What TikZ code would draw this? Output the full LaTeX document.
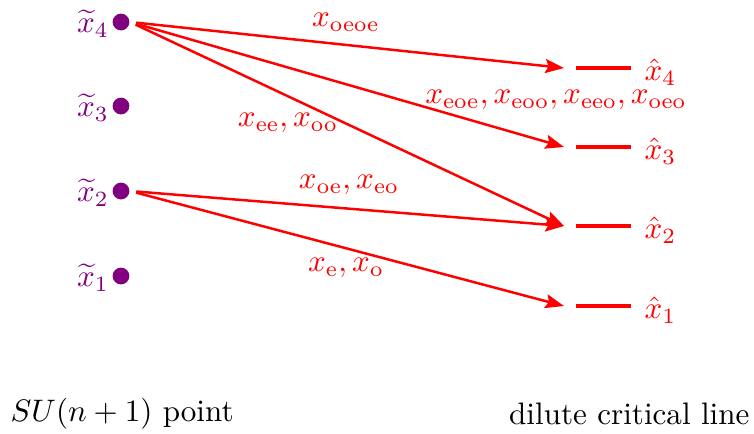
\documentclass[tikz,border=0pt]{standalone}
\usetikzlibrary{arrows.meta}
\definecolor{pur}{RGB}{128,0,128}
\tikzset{
  dot/.style={circle,fill=pur,inner sep=0pt,minimum size=5.4pt},
  ltxt/.style={text=pur,anchor=east,inner sep=0.5pt},
  bar/.style={red,line width=1.5pt},
  rtxt/.style={text=red,anchor=west,inner sep=1pt},
  arr/.style={red,thick,-{Stealth[length=6pt,width=4.5pt,inset=1pt]},shorten <=2pt},
  lab/.style={text=red,inner sep=1pt}
}
\begin{document}
\begin{tikzpicture}[x=0.0113cm,y=-0.0113cm]
\useasboundingbox (0,0) rectangle (754,433);
% left dots
\foreach \i/\y in {4/22,3/106,2/191,1/276}{
  \node[dot] (d\i) at (121,\y) {};
  \node[ltxt] (t\i) at (111,\y+2) {$\widetilde{x}_{\i}$};
}
% right bars
\foreach \i/\y in {4/68,3/147,2/226,1/306}{
  \coordinate (bl\i) at (576,\y);
  \coordinate (br\i) at (631,\y);
  \draw[bar] (bl\i) -- (br\i);
  \coordinate (a\i) at (564,\y);
  \node[rtxt] (h\i) at (641,\y+4) {$\hat{x}_{\i}$};
}
% arrows
\draw[arr] (d4.east) -- (a4);
\draw[arr] (d4.east) -- (a3);
\draw[arr] (d4.east) -- (a2);
\draw[arr] (d2.east) -- (a2);
\draw[arr] (d2.east) -- (a1);
% labels
\node[lab] (l1) at (346,22) {$x_{\mathrm{oeoe}}$};
\node[lab] (l2) at (556,100) {$x_{\mathrm{eoe}},x_{\mathrm{eoo}},x_{\mathrm{eeo}},x_{\mathrm{oeo}}$};
\node[lab] (l3) at (288,123) {$x_{\mathrm{ee}},x_{\mathrm{oo}}$};
\node[lab] (l4) at (349,185) {$x_{\mathrm{oe}},x_{\mathrm{eo}}$};
\node[lab] (l5) at (346,268) {$x_{\mathrm{e}},x_{\mathrm{o}}$};
% bottom captions
\node[anchor=west,inner sep=0pt] (c1) at (10,414) {$SU(n+1)$ point};
\node[anchor=east,inner sep=0pt] (c2) at (750,414) {dilute critical line};
\end{tikzpicture}
\end{document}
